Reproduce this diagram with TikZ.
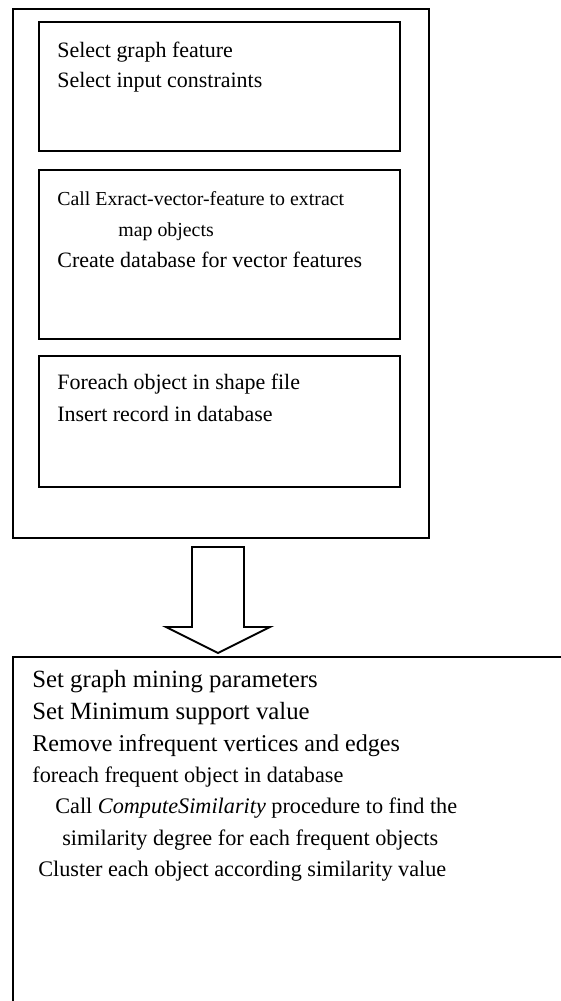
\documentclass[tikz,border=0pt]{standalone}
\usepackage{fontspec}
\setmainfont{Liberation Serif}

\tikzset{
  box/.style={draw, line width=1.1pt},
  stepline/.style={anchor=base west, inner sep=0pt, font=\fontsize{12.5}{15}\selectfont},
  stepsmall/.style={stepline, font=\fontsize{11.3}{14}\selectfont},
  minebig/.style={anchor=base west, inner sep=0pt, font=\fontsize{14.1}{17}\selectfont},
  mineline/.style={anchor=base west, inner sep=0pt, font=\fontsize{12.65}{15}\selectfont},
}

\begin{document}
\begin{tikzpicture}[x=0.02cm,y=-0.02cm]
				\useasboundingbox (0,0) rectangle (561,1001);
				% preprocessing stage
				\draw[box] (13,9) rectangle (429,538);
				\draw[box] (39,22) rectangle (400,151);
				\node[stepline] (sel1) at (57,57) {Select graph feature};
				\node[stepline] (sel2) at (57,87) {Select input constraints};
				\draw[box] (39,170) rectangle (400,339);
				\node[stepsmall] (ext1) at (57,205) {Call Exract-vector-feature to extract};
				\node[stepsmall] (ext2) at (118,236) {map objects};
				\node[stepline] (ext3) at (57,267) {Create database for vector features};
				\draw[box] (39,356) rectangle (400,487);
				\node[stepline] (ins1) at (57,389) {Foreach object in shape file};
				\node[stepline] (ins2) at (57,421) {Insert record in database};
				% block arrow
				\draw[box] (192,547) -- (244,547) -- (244,627) -- (270,627) -- (218,653) -- (166,627) -- (192,627) -- cycle;
				% mining stage
				\draw[box] (561,657) -- (13,657) -- (13,1001);
				\node[minebig] (min1) at (32,687) {Set graph mining parameters};
				\node[minebig] (min2) at (32,719) {Set Minimum support value};
				\node[minebig, font=\fontsize{13.7}{16}\selectfont] (min3) at (32,751) {Remove infrequent vertices and edges};
				\node[mineline] (min4) at (32,782) {foreach frequent object in database};
				\node[mineline] (min5) at (55,813) {Call \textit{ComputeSimilarity} procedure to find the};
				\node[mineline] (min6) at (62,845) {similarity degree for each frequent objects};
				\node[mineline] (min7) at (38,876) {Cluster each object according similarity value};
			\end{tikzpicture}
\end{document}
